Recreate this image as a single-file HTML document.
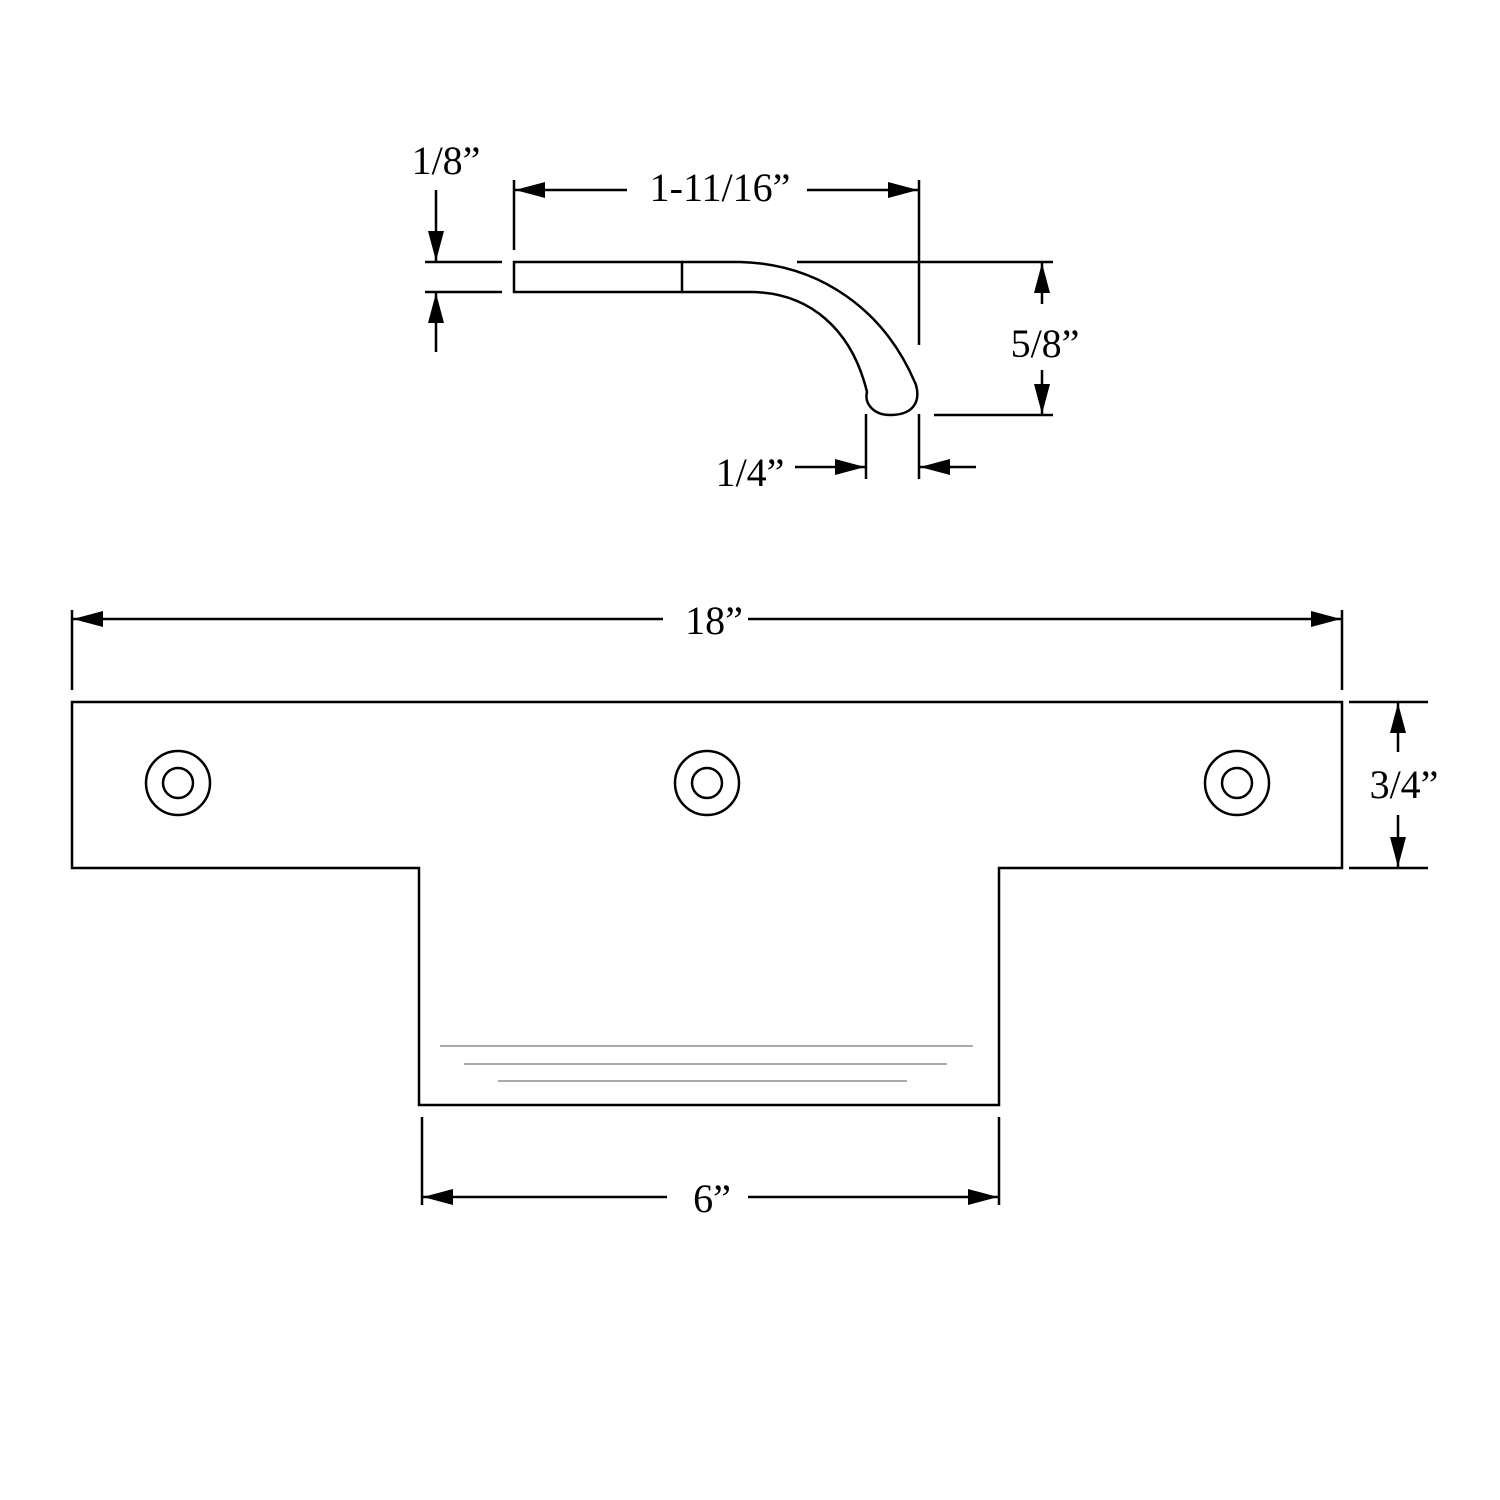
<!DOCTYPE html>
<html><head><meta charset="utf-8"><style>html,body{margin:0;padding:0;background:#fff}svg{display:block}</style></head>
<body>
<svg width="1500" height="1500" viewBox="0 0 1500 1500" xmlns="http://www.w3.org/2000/svg">
<defs>
<marker id="a" viewBox="0 0 30 16" refX="30" refY="8" markerWidth="30" markerHeight="16" markerUnits="userSpaceOnUse" orient="auto"><path d="M0,0 L30,8 L0,16 z" fill="#000"/></marker>
</defs>
<g fill="none" stroke="#000" stroke-width="2.5">
<rect x="514" y="262" width="168" height="30"/>
<path d="M682,262 L740,262 C820,264 885,310 916,385 C921,403 912,415 890,415 C874,415 864,404 867,392 C852,330 810,292 750,292 L682,292"/>
<line x1="425" y1="262" x2="502" y2="262"/>
<line x1="425" y1="292" x2="502" y2="292"/>
<line x1="514" y1="180" x2="514" y2="250"/>
<line x1="919" y1="180" x2="919" y2="345"/>
<line x1="797" y1="262" x2="1053" y2="262"/>
<line x1="934" y1="415" x2="1053" y2="415"/>
<line x1="866" y1="414" x2="866" y2="479"/>
<line x1="919" y1="414" x2="919" y2="479"/>
<path d="M72,702 L1342,702 L1342,868 L999,868 L999,1105 L419,1105 L419,868 L72,868 Z"/>
<circle cx="178" cy="783" r="32"/><circle cx="178" cy="783" r="15"/>
<circle cx="707" cy="783" r="32"/><circle cx="707" cy="783" r="15"/>
<circle cx="1237" cy="783" r="32"/><circle cx="1237" cy="783" r="15"/>
<line x1="72" y1="610" x2="72" y2="690"/>
<line x1="1342" y1="610" x2="1342" y2="690"/>
<line x1="1349" y1="702" x2="1428" y2="702"/>
<line x1="1349" y1="868" x2="1428" y2="868"/>
<line x1="422" y1="1117" x2="422" y2="1205"/>
<line x1="999" y1="1117" x2="999" y2="1205"/>
</g>
<g stroke="#777" stroke-width="1.2">
<line x1="440" y1="1046" x2="973" y2="1046"/>
<line x1="464" y1="1064" x2="947" y2="1064"/>
<line x1="498" y1="1081" x2="907" y2="1081"/>
</g>
<g stroke="#000" stroke-width="2.5" marker-end="url(#a)">
<line x1="436" y1="190" x2="436" y2="261"/>
<line x1="436" y1="352" x2="436" y2="293"/>
<line x1="627" y1="190" x2="515" y2="190"/>
<line x1="807" y1="190" x2="918" y2="190"/>
<line x1="1042" y1="304" x2="1042" y2="263"/>
<line x1="1042" y1="370" x2="1042" y2="414"/>
<line x1="795" y1="467" x2="865" y2="467"/>
<line x1="976" y1="467" x2="920" y2="467"/>
<line x1="663" y1="619" x2="73" y2="619"/>
<line x1="748" y1="619" x2="1341" y2="619"/>
<line x1="1398" y1="752" x2="1398" y2="703"/>
<line x1="1398" y1="815" x2="1398" y2="867"/>
<line x1="667" y1="1197" x2="423" y2="1197"/>
<line x1="748" y1="1197" x2="998" y2="1197"/>
</g>
<g font-family="'Liberation Serif', serif" font-size="40" fill="#000" text-anchor="middle">
<text x="446" y="174">1/8”</text>
<text x="720" y="201">1-11/16”</text>
<text x="1045" y="357">5/8”</text>
<text x="750" y="486">1/4”</text>
<text x="714" y="634">18”</text>
<text x="1404" y="798">3/4”</text>
<text x="712" y="1212">6”</text>
</g>
</svg>
</body></html>
